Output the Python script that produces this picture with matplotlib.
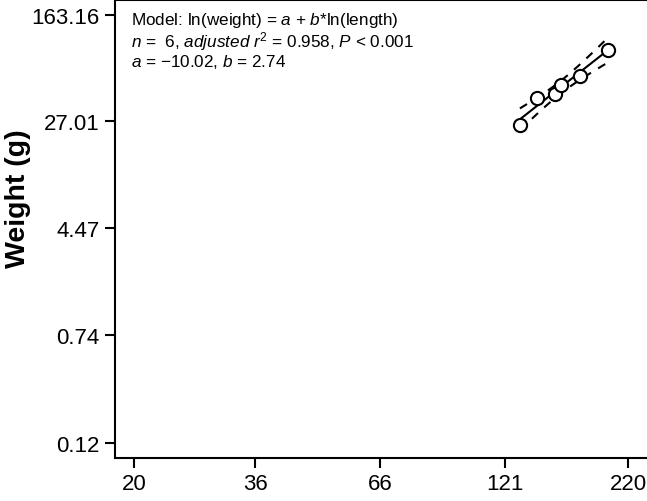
import numpy as np
import matplotlib.pyplot as plt

plt.rcParams['font.family'] = ['Liberation Sans', 'DejaVu Sans']
plt.rcParams['mathtext.fontset'] = 'custom'
plt.rcParams['mathtext.rm'] = 'Liberation Sans'
plt.rcParams['mathtext.it'] = 'Liberation Sans:italic'

# datos
length = [130, 141, 154, 159, 174, 199]
weight = [25.5, 40.3, 42.9, 50.2, 58.4, 90.5]
x_ticks = [20, 36, 66, 121, 220]
y_ticks = [0.12, 0.74, 4.47, 27.01, 163.16]
y_tick_labels = ['0.12', '0.74', '4.47', '27.01', '163.16']

# ajuste en escala log-log
lx = np.log(length)
ly = np.log(weight)
n = len(lx)
b, a = np.polyfit(lx, ly, 1)
resid = ly - (a + b * lx)
s = np.sqrt(np.sum(resid ** 2) / (n - 2))
t = 2.776  # t(0.975, 4)
xs = np.linspace(lx.min(), lx.max(), 100)
fit = a + b * xs
se = s * np.sqrt(1 / n + (xs - lx.mean()) ** 2 / np.sum((lx - lx.mean()) ** 2))

fig = plt.figure(figsize=(6.47, 5.02), dpi=100)
ax = fig.add_axes([115 / 647, 43 / 502, 1 - 115 / 647, 458 / 502])

ax.plot(np.exp(xs), np.exp(fit), color='black', lw=1.5)
ax.plot(np.exp(xs), np.exp(fit + t * se), color='black', lw=1.5, ls=(0, (4, 4)))
ax.plot(np.exp(xs), np.exp(fit - t * se), color='black', lw=1.5, ls=(0, (4, 4)))
ax.plot(length, weight, 'o', mfc='white', mec='black', mew=1.5, ms=9.5, zorder=3)

ax.set_xscale('log')
ax.set_yscale('log')
ax.set_xlim(18.2, 241)
ax.set_ylim(0.0932, 209)
ax.set_xticks(x_ticks)
ax.set_xticklabels([str(v) for v in x_ticks])
ax.set_yticks(y_ticks)
ax.set_yticklabels(y_tick_labels)
ax.minorticks_off()
ax.tick_params(labelsize=16, length=7, width=1.5, pad=4)
for sp in ax.spines.values():
    sp.set_linewidth(1.5)
ax.spines['right'].set_visible(False)

ax.set_ylabel('Weight (g)', fontsize=20.5, fontweight='bold')
ax.yaxis.set_label_coords(-0.158, 0.568)

# texto del modelo, una linea cada vez
lineas = ['Model: ln(weight) = $\\mathit{a}$ + $\\mathit{b}$*ln(length)',
          '$\\mathit{n}$ =  6, $\\mathit{adjusted\\ r}^2$ = 0.958, $\\mathit{P}$ < 0.001',
          '$\\mathit{a}$ = \u221210.02, $\\mathit{b}$ = 2.74']
for i, linea in enumerate(lineas):
    fig.text(131 / 647, 1 - (21 + 20.5 * i) / 502, linea, fontsize=12.3,
             va='center', ha='left')

fig.savefig('out.png', dpi=100)
